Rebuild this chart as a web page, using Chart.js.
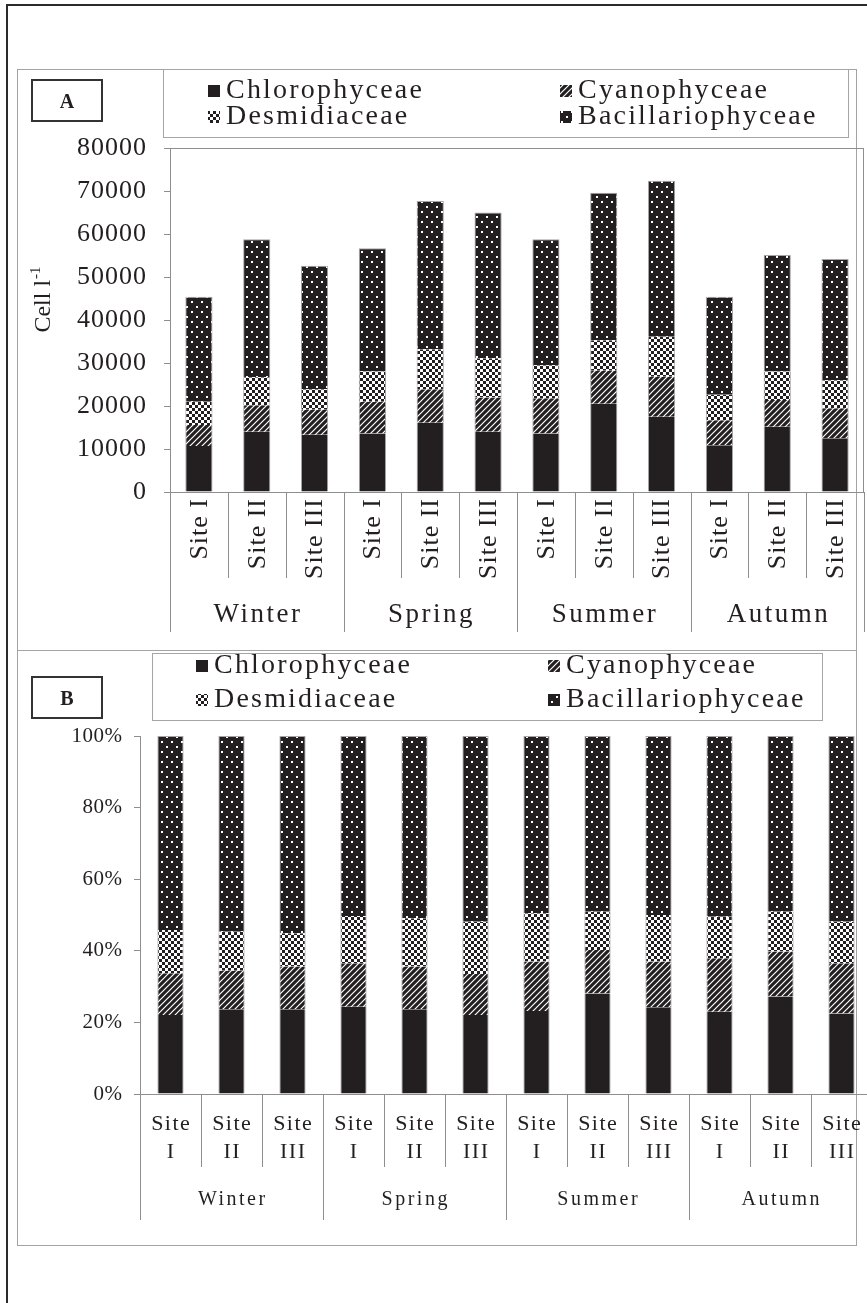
<!DOCTYPE html>
<html>
<head>
<meta charset="utf-8">
<script src="https://cdn.jsdelivr.net/npm/chart.js@4.4.1/dist/chart.umd.min.js"></script>
<style>
    html, body { margin: 0; padding: 0; background: #fff; width: 867px; height: 1303px; overflow: hidden; }
    .frame { position: absolute; left: 6px; top: 4px; width: 1000px; height: 1400px; border-left: 2px solid #2b2b2b; border-top: 2px solid #2b2b2b; }
    .panel { position: absolute; left: 17px; width: 838px; border: 1px solid #a3a3a3; }
    .tag { position: absolute; left: 31px; width: 68px; height: 39px; border: 2px solid #333; font: bold 20px "Liberation Serif", serif; color: #231f20; text-align: center; line-height: 41px; }
    canvas { position: absolute; left: 0; }
</style>
</head>
<body>
<div class="frame"></div>
<div class="panel" style="top:69px;height:580px"></div>
<div class="panel" style="top:650px;height:594px"></div>
<canvas id="chartA" width="880" height="590" style="top:60px"></canvas>
<canvas id="chartB" width="880" height="600" style="top:650px"></canvas>
<div class="tag" style="top:79px">A</div>
<div class="tag" style="top:676px">B</div>

<script>
// ---------- data ----------
const seasons = ["Winter", "Spring", "Summer", "Autumn"];
const sites = ["Site I", "Site II", "Site III"];
const siteNumerals = ["I", "II", "III"];
const groups = ["Chlorophyceae", "Cyanophyceae", "Desmidiaceae", "Bacillariophyceae"];

// cells per litre, Winter I..III, Spring I..III, Summer I..III, Autumn I..III
const chloroCells = [10700, 14000, 13300, 13600, 16100, 14000, 13600, 20500, 17500, 10900, 15200, 12500];
const cyanoCells  = [4900, 6200, 5800, 7400, 7800, 8000, 8200, 7700, 9300, 5800, 6200, 7000];
const desmidCells = [5400, 6500, 4800, 7000, 9300, 9100, 7700, 7100, 9300, 5900, 6600, 6500];
const bacilCells  = [24400, 32100, 28700, 28700, 34500, 33900, 29300, 34300, 36300, 22800, 27100, 28200];

// relative share (%), same order
const chloroPct = [22.1, 23.7, 23.7, 24.4, 23.7, 22.1, 23.2, 28.1, 24.2, 23.0, 27.2, 22.5];
const cyanoPct  = [11.6, 10.7, 11.9, 12.1, 11.9, 11.4, 13.8, 12.1, 12.8, 14.9, 12.6, 14.0];
const desmidPct = [12.1, 10.9, 9.3, 13.2, 13.5, 14.6, 13.5, 10.7, 13.0, 11.6, 11.1, 11.6];
const bacilPct  = [54.2, 54.7, 55.1, 50.3, 50.9, 51.9, 49.5, 49.1, 50.0, 50.5, 49.1, 51.9];

const categories = [];
seasons.forEach(s => sites.forEach(site => categories.push(s + " " + site)));

// ---------- look ----------
const INK = "#231f20";
const AXIS = "#8e8e8e";
const EDGE = "#a5a5a5";
const FONT = '"Liberation Serif", "Times New Roman", serif';

function tile(w, h, paint) {
    const c = document.createElement("canvas");
    c.width = w; c.height = h;
    const g = c.getContext("2d");
    g.fillStyle = INK;
    g.fillRect(0, 0, w, h);
    g.fillStyle = "#fff";
    g.strokeStyle = "#fff";
    paint(g);
    return g.createPattern(c, "repeat");
}

const fills = [
    INK,
    tile(6, 6, g => {
        g.lineWidth = 1.2;
        g.beginPath();
        g.moveTo(0, 6); g.lineTo(6, 0);
        g.moveTo(-1, 1); g.lineTo(1, -1);
        g.moveTo(5, 7); g.lineTo(7, 5);
        g.stroke();
    }),
    tile(6, 6, g => {
        g.fillRect(3, 0, 3, 3);
        g.fillRect(0, 3, 3, 3);
    }),
    tile(10, 10, g => {
        g.fillRect(1, 1, 2, 2);
        g.fillRect(6, 6, 2, 2);
    })
];

function text(ctx, str, x, y, size, spacing, align, rot) {
    ctx.save();
    ctx.font = size + "px " + FONT;
    ctx.letterSpacing = spacing + "px";
    ctx.fillStyle = INK;
    ctx.textBaseline = "middle";
    ctx.textAlign = "left";
    ctx.translate(x, y);
    if (rot) ctx.rotate(rot);
    const w = ctx.measureText(str).width - spacing;
    const dx = align === "center" ? -w / 2 : align === "right" ? -w : 0;
    ctx.fillText(str, dx, 0);
    ctx.restore();
    return w;
}

function line(ctx, x1, y1, x2, y2, color) {
    ctx.save();
    ctx.strokeStyle = color;
    ctx.lineWidth = 1;
    ctx.beginPath();
    ctx.moveTo(x1, y1);
    ctx.lineTo(x2, y2);
    ctx.stroke();
    ctx.restore();
}

// legend, tick text, two-level category axis
function decor(cfg) {
    return {
        id: "decor",
        afterDraw(chart) {
            const ctx = chart.ctx;
            const area = chart.chartArea;
            const xs = chart.scales.x;
            const ys = chart.scales.y;

            // legend
            const lb = cfg.legend;
            ctx.save();
            ctx.strokeStyle = EDGE;
            ctx.lineWidth = 1;
            ctx.strokeRect(lb.x + 0.5, lb.y + 0.5, lb.w, lb.h);
            ctx.restore();
            groups.forEach((name, i) => {
                const col = i === 0 || i === 2 ? 0 : 1;
                const row = i < 2 ? 0 : 1;
                const sx = lb.cols[col];
                const sy = lb.rows[row];
                ctx.fillStyle = fills[i];
                ctx.fillRect(sx, sy - 6, 12, 12);
                text(ctx, name, sx + 18, sy, lb.size, lb.spacing, "left");
            });

            // y tick labels
            ys.ticks.forEach(t => {
                const py = ys.getPixelForValue(t.value);
                text(ctx, cfg.yFormat(t.value), cfg.yLabelRight, py, cfg.ySize, cfg.ySpacing, "right");
            });

            if (cfg.yTitle) {
                const yt = cfg.yTitle;
                const small = Math.round(yt.size * 0.62);
                ctx.save();
                ctx.translate(yt.x, yt.y);
                ctx.rotate(-Math.PI / 2);
                ctx.fillStyle = INK;
                ctx.textBaseline = "middle";
                ctx.font = yt.size + "px " + FONT;
                const w1 = ctx.measureText("Cell l").width;
                ctx.font = small + "px " + FONT;
                const w2 = ctx.measureText("-1").width;
                const x0 = -(w1 + w2) / 2;
                ctx.font = yt.size + "px " + FONT;
                ctx.fillText("Cell l", x0, 0);
                ctx.font = small + "px " + FONT;
                ctx.fillText("-1", x0 + w1 + 1, -yt.size * 0.32);
                ctx.restore();
            }

            // plot outline (top and right)
            if (cfg.outline) {
                line(ctx, area.left, area.top + 0.5, area.right, area.top + 0.5, AXIS);
                line(ctx, area.right - 0.5, area.top, area.right - 0.5, area.bottom, AXIS);
            }

            // category dividers and labels
            const half = (xs.getPixelForValue(1) - xs.getPixelForValue(0)) / 2;
            const base = area.bottom;
            for (let i = 0; i <= categories.length; i++) {
                const bx = Math.round((i < categories.length ? xs.getPixelForValue(i) - half : xs.getPixelForValue(i - 1) + half)) + 0.5;
                const len = i % 3 === 0 ? cfg.seasonDrop : cfg.siteDrop;
                line(ctx, bx, base, bx, base + len, AXIS);
            }
            categories.forEach((c, i) => {
                const cx = xs.getPixelForValue(i);
                if (cfg.rotated) {
                    text(ctx, sites[i % 3], cx + 1, base + cfg.siteY, cfg.siteSize, cfg.siteSpacing, "right", -Math.PI / 2);
                } else {
                    text(ctx, "Site", cx, base + cfg.siteY, cfg.siteSize, cfg.siteSpacing, "center");
                    text(ctx, siteNumerals[i % 3], cx, base + cfg.siteY2, cfg.siteSize, cfg.siteSpacing, "center");
                }
            });
            seasons.forEach((s, k) => {
                const cx = (xs.getPixelForValue(k * 3) + xs.getPixelForValue(k * 3 + 2)) / 2;
                text(ctx, s, cx, base + cfg.seasonY, cfg.seasonSize, cfg.seasonSpacing, "center");
            });
        }
    };
}

function buildChart(id, series, cfg) {
    return new Chart(document.getElementById(id), {
        type: "bar",
        data: {
            labels: categories,
            datasets: series.map((vals, i) => ({
                label: groups[i],
                data: vals,
                backgroundColor: fills[i],
                borderColor: EDGE,
                borderWidth: { left: 1, right: 1, top: i === 3 ? 1 : 0, bottom: 0 },
                borderSkipped: false,
                barPercentage: cfg.barPct,
                categoryPercentage: 1
            }))
        },
        options: {
            responsive: false,
            animation: false,
            events: [],
            layout: { padding: cfg.pad },
            plugins: { legend: { display: false }, tooltip: { enabled: false } },
            scales: {
                x: {
                    stacked: true,
                    offset: true,
                    grid: { display: false },
                    border: { display: true, color: AXIS, width: 1 },
                    ticks: { display: false },
                    afterFit: s => { s.height = 0; }
                },
                y: {
                    stacked: true,
                    min: 0,
                    max: cfg.max,
                    ticks: { display: false, stepSize: cfg.step },
                    grid: { drawOnChartArea: false, drawTicks: true, tickLength: 6, color: AXIS },
                    border: { display: true, color: AXIS, width: 1 },
                    afterFit: s => { s.width = 0; }
                }
            }
        },
        plugins: [decor(cfg)]
    });
}

// panel A: absolute counts (canvas top = 60)
buildChart("chartA", [chloroCells, cyanoCells, desmidCells, bacilCells], {
    max: 80000, step: 10000, barPct: 0.47,
    pad: { left: 170, right: 16, top: 88, bottom: 158 },
    legend: { x: 163, y: 9, w: 685, h: 68, cols: [208, 560], rows: [31, 57], size: 28, spacing: 2.2 },
    yFormat: v => String(v), yLabelRight: 146, ySize: 26, ySpacing: 1,
    yTitle: { x: 44, y: 240, size: 24 },
    outline: true,
    rotated: true, siteY: 7, siteSize: 26, siteSpacing: 1,
    siteDrop: 86, seasonDrop: 140,
    seasonY: 123, seasonSize: 27, seasonSpacing: 2.5
});

// panel B: relative share (canvas top = 650)
buildChart("chartB", [chloroPct, cyanoPct, desmidPct, bacilPct], {
    max: 100, step: 20, barPct: 0.43,
    pad: { left: 140, right: 8, top: 86, bottom: 156 },
    legend: { x: 152, y: 3, w: 670, h: 67, cols: [196, 548], rows: [16, 50], size: 28, spacing: 2.2 },
    yFormat: v => v + "%", yLabelRight: 122, ySize: 21, ySpacing: 0.5,
    yTitle: null,
    outline: false,
    rotated: false, siteY: 30, siteY2: 58, siteSize: 22, siteSpacing: 1.5,
    siteDrop: 73, seasonDrop: 126,
    seasonY: 106, seasonSize: 20, seasonSpacing: 2.5
});
</script>
</body>
</html>
